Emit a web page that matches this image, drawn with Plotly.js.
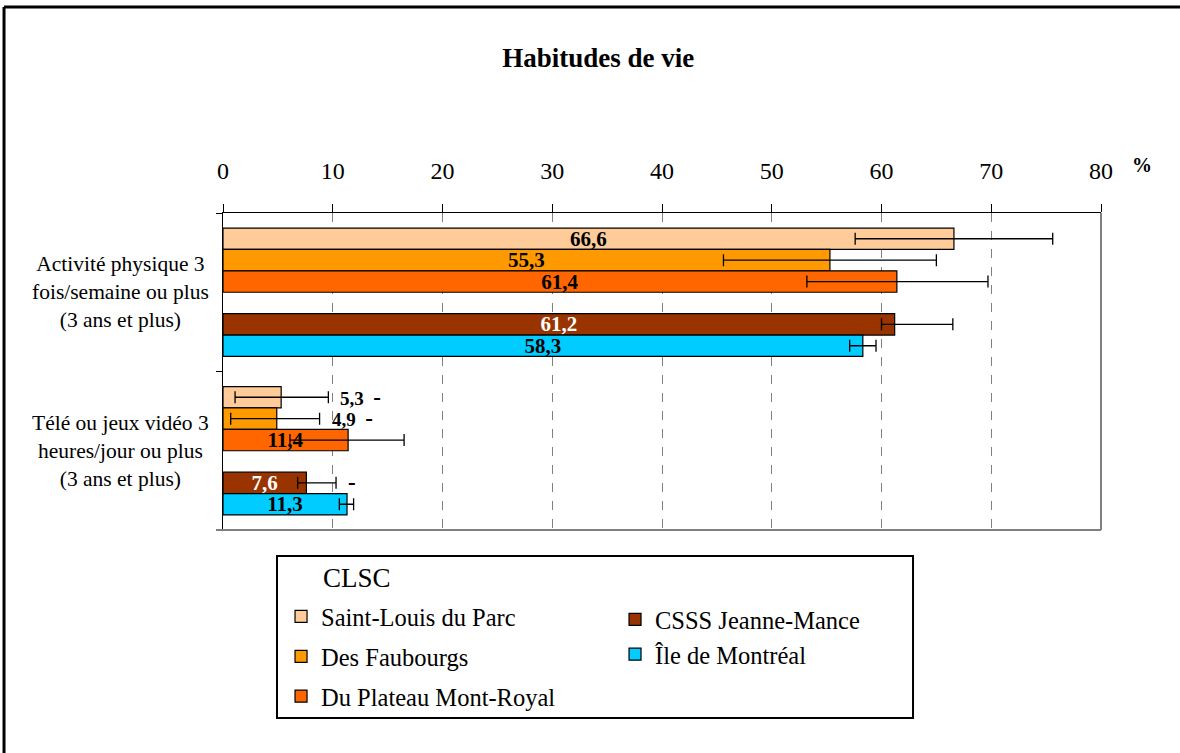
<!DOCTYPE html>
<html>
<head>
<meta charset="utf-8">
<script src="https://cdn.plot.ly/plotly-3.0.1.min.js"></script>
<style>html,body{margin:0;padding:0;background:#fff}#chart{width:1180px;height:753px}</style>
</head>
<body>
<div id="chart"></div>
<script>
// ---- data ----
const categories = ["Activité physique 3 fois/semaine ou plus (3 ans et plus)", "Télé ou jeux vidéo 3 heures/jour ou plus (3 ans et plus)"];
const categoryLabels = ["Activité physique 3<br>fois/semaine ou plus<br>(3 ans et plus)", "Télé ou jeux vidéo 3<br>heures/jour ou plus<br>(3 ans et plus)"];

const legendTitle = "CLSC";
const seriesNames = ["Saint-Louis du Parc", "Des Faubourgs", "Du Plateau Mont-Royal", "CSSS Jeanne-Mance", "Île de Montréal"];
const saintLouis   = [66.6, 5.3];
const desFaubourgs = [55.3, 4.9];
const duPlateau    = [61.4, 11.4];
const csssJM       = [61.2, 7.6];
const ileMontreal  = [58.3, 11.3];

// confidence interval bounds (lower, upper)
const saintLouisLo   = [57.6, 1.1],  saintLouisHi   = [75.6, 9.6];
const desFaubourgsLo = [45.6, 0.7],  desFaubourgsHi = [65.0, 8.8];
const duPlateauLo    = [53.2, 6.1],  duPlateauHi    = [69.7, 16.5];
const csssJMLo       = [60.0, 6.8],  csssJMHi       = [66.5, 10.3];
const ileMontrealLo  = [57.1, 10.6], ileMontrealHi  = [59.5, 11.9];

// significance flags ("-" = significantly lower)
const saintLouisFlag   = ["", "-"];
const desFaubourgsFlag = ["", "-"];
const duPlateauFlag    = ["", ""];
const csssJMFlag       = ["", "-"];
const ileMontrealFlag  = ["", ""];

const xTicks = [0, 10, 20, 30, 40, 50, 60, 70, 80];

// ---- styling ----
const FONT = "Liberation Serif, 'Times New Roman', serif";
const colors = ["#FFCC99", "#FF9900", "#FF6600", "#993300", "#00CCFF"];
const labelColors = ["#000", "#000", "#000", "#fff", "#000"];
const legendOf = ["legend", "legend", "legend", "legend2", "legend2"];

const values = [saintLouis, desFaubourgs, duPlateau, csssJM, ileMontreal];
const los = [saintLouisLo, desFaubourgsLo, duPlateauLo, csssJMLo, ileMontrealLo];
const his = [saintLouisHi, desFaubourgsHi, duPlateauHi, csssJMHi, ileMontrealHi];
const flags = [saintLouisFlag, desFaubourgsFlag, duPlateauFlag, csssJMFlag, ileMontrealFlag];

const fmt = v => v.toFixed(1).replace('.', ',');
const OUTSIDE_LIMIT = 6; // bars shorter than this get their label beyond the error bar

function barTrace(i) {
  const v = values[i];
  return {
    type: 'bar', orientation: 'h', name: seriesNames[i],
    y: categories, x: v,
    legend: legendOf[i], legendgroup: 'g' + i, legendrank: i + 1,
    marker: {color: colors[i], line: {color: '#000', width: 1.2}},
    text: v.map(x => x < OUTSIDE_LIMIT ? '' : fmt(x)),
    textposition: 'inside', insidetextanchor: 'middle', constraintext: 'none',
    textfont: {family: FONT, size: 21, color: labelColors[i], weight: 'bold'},
    error_x: {type: 'data', symmetric: false,
      array: v.map((x, k) => his[i][k] - x),
      arrayminus: v.map((x, k) => x - los[i][k]),
      color: '#000', thickness: 1.3, width: 6},
    hoverinfo: 'x+name'
  };
}
const gapTrace = {type: 'bar', orientation: 'h', y: categories, x: [null, null],
  showlegend: false, hoverinfo: 'skip', marker: {color: 'rgba(0,0,0,0)'}};

const data = [barTrace(0), barTrace(1), barTrace(2), gapTrace, barTrace(3), barTrace(4)];

// outside labels + significance flags
const annotations = [];
for (let i = 0; i < 5; i++) {
  values[i].forEach((v, k) => {
    const outside = v < OUTSIDE_LIMIT;
    const flag = flags[i][k];
    if (!outside && !flag) return;
    const slot = i < 3 ? i : i + 1;
    let txt = outside ? '<b>' + fmt(v) + '</b>' : '';
    if (flag) txt += (outside ? '  ' : '') + '<b><span style="font-size:23px">' + flag + '</span></b>';
    annotations.push({
      xref: 'x', yref: 'y', x: his[i][k], y: categories[k],
      xanchor: 'left', yanchor: 'middle', xshift: 10,
      yshift: -(slot - 2.5) * 21.2,
      text: txt, showarrow: false,
      font: {family: FONT, size: 19, color: '#000'}
    });
  });
}
categories.forEach((c, k) => annotations.push({
  xref: 'paper', yref: 'y', x: -0.117, y: c, xanchor: 'center', yanchor: 'middle',
  text: categoryLabels[k], showarrow: false, align: 'center',
  font: {family: FONT, size: 21.5, color: '#000'}
}));
annotations.push({xref: 'paper', yref: 'paper', x: 1.047, y: 1.151, xanchor: 'center', yanchor: 'middle',
  text: '<b>%</b>', showarrow: false, font: {family: FONT, size: 20, color: '#000'}});
annotations.push({xref: 'paper', yref: 'paper', x: 0.1116, y: -0.151, xanchor: 'left', yanchor: 'middle',
  text: legendTitle, showarrow: false, font: {family: FONT, size: 27, color: '#000'}});

const layout = {
  width: 1180, height: 753,
  margin: {l: 223, r: 79, t: 213, b: 223},
  paper_bgcolor: '#fff', plot_bgcolor: '#fff',
  font: {family: FONT, color: '#000'},
  title: {text: '<b>Habitudes de vie</b>', x: 0.507, xref: 'container', y: 0.923, yref: 'container',
    yanchor: 'middle', font: {family: FONT, size: 27, color: '#000'}},
  barmode: 'group', bargap: 0.19, bargroupgap: 0,
  xaxis: {side: 'top', range: [0, 80], tickvals: xTicks, ticktext: xTicks.map(String),
    showline: true, linecolor: '#000', linewidth: 1.3,
    ticks: 'outside', ticklen: 8, tickcolor: '#000', ticklabelstandoff: 15,
    tickfont: {family: FONT, size: 24, color: '#000'},
    showgrid: true, gridcolor: '#808080', griddash: 'dash', gridwidth: 1, zeroline: false, fixedrange: true},
  yaxis: {type: 'category', autorange: 'reversed', showticklabels: false,
    showline: true, linecolor: '#000', linewidth: 1.3,
    ticks: 'outside', tickson: 'boundaries', ticklen: 6, tickcolor: '#000',
    showgrid: false, zeroline: false, fixedrange: true},
  legend: {x: 0.0661, y: -0.202, xanchor: 'left', yanchor: 'top', orientation: 'v',
    bgcolor: 'rgba(0,0,0,0)', tracegroupgap: 5,
    font: {family: FONT, size: 24.5, color: '#000'}},
  legend2: {x: 0.4465, y: -0.211, xanchor: 'left', yanchor: 'top', orientation: 'v',
    bgcolor: 'rgba(0,0,0,0)', tracegroupgap: 0,
    font: {family: FONT, size: 24.5, color: '#000'}},
  annotations: annotations,
  shapes: [
    // plot frame (right + bottom, grey)
    {type: 'line', xref: 'paper', yref: 'paper', x0: 1, x1: 1, y0: 0, y1: 1, line: {color: '#808080', width: 2}},
    {type: 'line', xref: 'paper', yref: 'paper', x0: -0.008, x1: 1, y0: 0, y1: 0, line: {color: '#808080', width: 2}},
    // legend box
    {type: 'rect', xref: 'paper', yref: 'paper', x0: 0.0615, x1: 0.7859, y0: -0.593, y1: -0.082,
      line: {color: '#000', width: 2}, fillcolor: 'rgba(0,0,0,0)'},
    // outer figure border (left + top)
    {type: 'line', xref: 'paper', yref: 'paper', x0: -0.2494, x1: -0.2494, y0: -0.8, y1: 1.65, line: {color: '#000', width: 3}},
    {type: 'line', xref: 'paper', yref: 'paper', x0: -0.2494, x1: 1.2, y0: 1.65, y1: 1.65, line: {color: '#000', width: 3}}
  ]
};

Plotly.newPlot('chart', data, layout, {displayModeBar: false, staticPlot: true});
</script>
</body>
</html>
